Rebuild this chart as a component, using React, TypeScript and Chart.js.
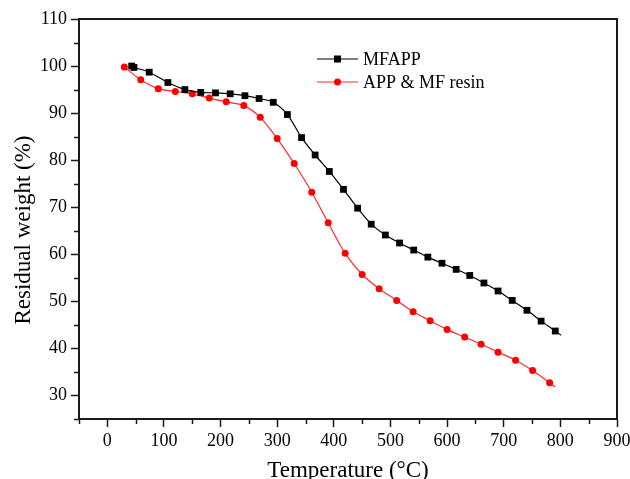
import React, { useEffect, useRef } from "react";
import { Chart, registerables } from "chart.js";

Chart.register(...registerables);

// ---- data ----
const mfappTemp = [43, 47, 74, 107, 137, 165, 191, 217, 243, 268, 293, 318, 343, 367, 392, 417, 442, 466, 491, 516, 541, 566, 591, 616, 640, 665, 690, 715, 741, 766, 791, 801];
const mfappWeight = [100.0, 99.7, 98.7, 96.5, 95.0, 94.4, 94.3, 94.1, 93.7, 93.1, 92.3, 89.7, 84.8, 81.1, 77.6, 73.8, 69.8, 66.4, 64.1, 62.4, 60.9, 59.4, 58.1, 56.8, 55.5, 53.9, 52.2, 50.2, 48.1, 45.8, 43.7, 42.8];
const resinTemp = [30, 59, 90, 120, 150, 180, 210, 241, 270, 300, 330, 361, 390, 420, 450, 480, 511, 540, 570, 600, 631, 660, 690, 721, 751, 781, 791];
const resinWeight = [99.8, 97.1, 95.2, 94.6, 94.1, 93.2, 92.4, 91.6, 89.1, 84.6, 79.3, 73.2, 66.7, 60.2, 55.7, 52.7, 50.2, 47.8, 45.9, 44.0, 42.4, 40.9, 39.2, 37.5, 35.3, 32.7, 31.8];

const seriesNames = ["MFAPP", "APP & MF resin"];
const xTickValues = [0, 100, 200, 300, 400, 500, 600, 700, 800, 900];
const yTickValues = [30, 40, 50, 60, 70, 80, 90, 100, 110];
const xMinorValues = [-50, 50, 150, 250, 350, 450, 550, 650, 750, 850];
const yMinorValues = [25, 35, 45, 55, 65, 75, 85, 95, 105];
const xTitle = "Temperature (°C)";
const yTitle = "Residual weight (%)";

const FONT = "'Liberation Serif', 'Times New Roman', serif";
const AXIS = "#1a1a1a";

const decorPlugin = {
  id: "decor",
  beforeDraw(chart: any) {
    const ctx = chart.ctx;
    ctx.save();
    ctx.fillStyle = "#ffffff";
    ctx.fillRect(0, 0, chart.width, chart.height);
    ctx.restore();
  },
  afterDraw(chart: any) {
    const ctx = chart.ctx;
    const { left, right, top, bottom } = chart.chartArea;
    const xs = chart.scales.x;
    const ys = chart.scales.y;
    ctx.save();
    // frame
    ctx.strokeStyle = AXIS;
    ctx.lineWidth = 2;
    ctx.beginPath();
    ctx.moveTo(left, bottom);
    ctx.lineTo(left, top);
    ctx.lineTo(right, top);
    ctx.lineTo(right, bottom);
    ctx.lineTo(left, bottom);
    ctx.stroke();
    // minor ticks
    ctx.lineWidth = 1.5;
    ctx.beginPath();
    xMinorValues.forEach((v) => {
      const px = Math.round(xs.getPixelForValue(v)) + 0.5;
      ctx.moveTo(px, bottom);
      ctx.lineTo(px, bottom + 5);
    });
    yMinorValues.forEach((v) => {
      const py = Math.round(ys.getPixelForValue(v)) + 0.5;
      ctx.moveTo(left, py);
      ctx.lineTo(left - 5, py);
    });
    ctx.stroke();
    // axis titles
    ctx.fillStyle = "#000";
    ctx.font = `23px ${FONT}`;
    ctx.textAlign = "center";
    ctx.textBaseline = "alphabetic";
    ctx.fillText(xTitle, (left + right) / 2, 477);
    ctx.save();
    ctx.translate(29.5, 230);
    ctx.rotate(-Math.PI / 2);
    ctx.fillText(yTitle, 0, 0);
    ctx.restore();
    // legend
    const rows = [59, 82];
    chart.data.datasets.forEach((ds: any, i: number) => {
      const y = rows[i];
      ctx.strokeStyle = ds.borderColor;
      ctx.lineWidth = 1.2;
      ctx.beginPath();
      ctx.moveTo(317, y);
      ctx.lineTo(358, y);
      ctx.stroke();
      ctx.fillStyle = ds.pointBackgroundColor;
      if (ds.pointStyle === "rect") {
        ctx.fillRect(337.5 - 3.5, y - 3.5, 7, 7);
      } else {
        ctx.beginPath();
        ctx.arc(337.5, y, 3.5, 0, Math.PI * 2);
        ctx.fill();
      }
      ctx.fillStyle = "#000";
      ctx.font = `18px ${FONT}`;
      ctx.textAlign = "left";
      ctx.textBaseline = "middle";
      ctx.fillText(ds.label, 363, y + 1);
    });
    ctx.restore();
  },
};

export default function App() {
  const canvasRef = useRef<HTMLCanvasElement | null>(null);

  useEffect(() => {
    const canvas = canvasRef.current;
    if (!canvas) return;
    const lastZero = (n: number, r: number) => (c: any) => (c.dataIndex === n - 1 ? 0 : r);
    const chart = new Chart(canvas, {
      type: "line",
      data: {
        datasets: [
          {
            label: seriesNames[0],
            data: mfappTemp.map((t, i) => ({ x: t, y: mfappWeight[i] })),
            borderColor: "#000000",
            backgroundColor: "#000000",
            pointBackgroundColor: "#000000",
            pointBorderColor: "#000000",
            pointStyle: "rect",
            pointRadius: lastZero(mfappTemp.length, 4.8),
            pointBorderWidth: 0,
            borderWidth: 1.2,
            tension: 0.3,
            fill: false,
          },
          {
            label: seriesNames[1],
            data: resinTemp.map((t, i) => ({ x: t, y: resinWeight[i] })),
            borderColor: "#ff2a2a",
            backgroundColor: "#ff0000",
            pointBackgroundColor: "#ff0000",
            pointBorderColor: "#ff0000",
            pointStyle: "circle",
            pointRadius: lastZero(resinTemp.length, 3.5),
            pointBorderWidth: 0,
            borderWidth: 1.2,
            tension: 0.3,
            fill: false,
          },
        ],
      },
      options: {
        animation: false,
        responsive: false,
        layout: { padding: { top: 19, right: 13, left: 0, bottom: 0 } },
        plugins: {
          legend: { display: false },
          tooltip: { enabled: false },
        },
        scales: {
          x: {
            type: "linear",
            min: -50,
            max: 900,
            afterBuildTicks: (s: any) => {
              s.ticks = xTickValues.map((v) => ({ value: v }));
            },
            afterFit: (s: any) => {
              s.height = 60;
              s.paddingLeft = 0;
              s.paddingRight = 0;
            },
            grid: {
              drawOnChartArea: false,
              drawTicks: true,
              tickLength: 8,
              tickColor: AXIS,
              tickWidth: 1.5,
              color: AXIS,
            },
            border: { display: true, color: AXIS, width: 2 },
            ticks: {
              color: "#000",
              font: { family: FONT, size: 18 },
              padding: 3,
              maxRotation: 0,
              autoSkip: false,
            },
          },
          y: {
            type: "linear",
            min: 25,
            max: 110,
            afterBuildTicks: (s: any) => {
              s.ticks = yTickValues.map((v) => ({ value: v }));
            },
            afterFit: (s: any) => {
              s.width = 79;
              s.paddingTop = 0;
              s.paddingBottom = 0;
            },
            grid: {
              drawOnChartArea: false,
              drawTicks: true,
              tickLength: 8,
              tickColor: AXIS,
              tickWidth: 1.5,
              color: AXIS,
            },
            border: { display: true, color: AXIS, width: 2 },
            ticks: {
              color: "#000",
              font: { family: FONT, size: 18 },
              padding: 4,
              autoSkip: false,
            },
          },
        },
      },
      plugins: [decorPlugin],
    } as any);
    return () => chart.destroy();
  }, []);

  return (
    <div style={{ position: "fixed", left: 0, top: 0, width: 630, height: 479, background: "#fff" }}>
      <canvas ref={canvasRef} width={630} height={479} style={{ display: "block", width: 630, height: 479 }} />
    </div>
  );
}
